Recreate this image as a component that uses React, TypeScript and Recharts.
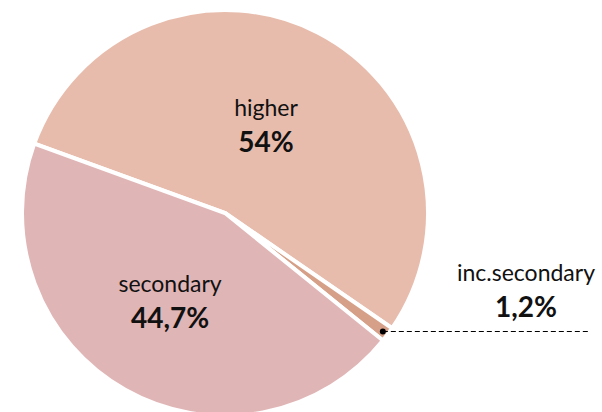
import { PieChart, Pie, Cell } from "recharts";

const categories = ["higher", "inc.secondary", "secondary"];
const shares = [54, 1.2, 44.7];
const colors = ["#E8BCAC", "#D6A088", "#E0B5B6"];

const data = categories.map((name, i) => ({ name, value: shares[i] }));

const RADIAN = Math.PI / 180;
const FONT = "Lato, 'Open Sans', sans-serif";

const fmt = (v: number) => `${String(v).replace(".", ",")}%`;

function renderLabel(props: any) {
  const { cx, cy, midAngle, outerRadius, index, value, name } = props;
  const cos = Math.cos(-midAngle * RADIAN);
  const sin = Math.sin(-midAngle * RADIAN);

  if (name === "inc.secondary") {
    // dot at the slice tip, dashed leader to the right, text above it
    const px = cx + (outerRadius - 6) * cos;
    const py = Math.round(cy + (outerRadius - 6) * sin) + 0.5;
    const tx = 526;
    return (
      <g key={`lbl-${index}`}>
        <circle cx={px} cy={py} r={3} fill="#000" />
        <line x1={px} y1={py} x2={590} y2={py} stroke="#000" strokeWidth={1} strokeDasharray="5 3" />
        <text x={tx} y={py - 51} textAnchor="middle" fontFamily={FONT} fontSize={23} fill="#111">
          {name}
        </text>
        <text x={tx} y={py - 15} textAnchor="middle" fontFamily={FONT} fontSize={28} fontWeight={700} fill="#111">
          {fmt(value)}
        </text>
      </g>
    );
  }

  const r = outerRadius * (name === "higher" ? 0.44 : 0.55);
  const x = cx + r * cos;
  const y = cy + r * sin;
  return (
    <g key={`lbl-${index}`}>
      <text x={x} y={y - 18} textAnchor="middle" fontFamily={FONT} fontSize={23} fill="#111">
        {name}
      </text>
      <text x={x} y={y + 18} textAnchor="middle" fontFamily={FONT} fontSize={28} fontWeight={700} fill="#111">
        {fmt(value)}
      </text>
    </g>
  );
}

export default function App() {
  return (
    <div style={{ position: "absolute", left: 0, top: 0, width: 602, height: 412, background: "#fff" }}>
      <PieChart width={602} height={412} margin={{ top: 0, right: 0, bottom: 0, left: 0 }}>
        <Pie
          data={data}
          dataKey="value"
          nameKey="name"
          cx={225}
          cy={213}
          outerRadius={203}
          startAngle={160}
          endAngle={-200}
          stroke="#fff"
          strokeWidth={4}
          label={renderLabel}
          labelLine={false}
          isAnimationActive={false}
        >
          {data.map((d, i) => (
            <Cell key={d.name} fill={colors[i]} />
          ))}
        </Pie>
      </PieChart>
    </div>
  );
}
